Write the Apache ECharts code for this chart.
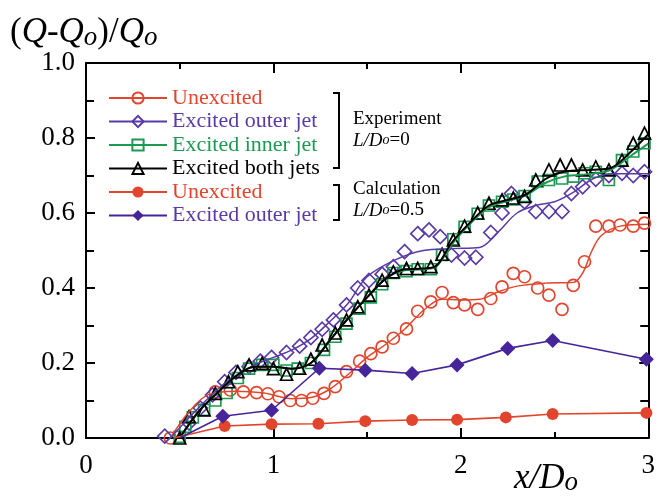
<!DOCTYPE html>
<html>
<head>
<meta charset="utf-8">
<title>Flow rate increase</title>
<script src="https://cdn.jsdelivr.net/npm/echarts@6/dist/echarts.min.js"></script>
<style>
body { margin: 0; background: #fff; }
#chart { width: 658px; height: 496px; }
</style>
</head>
<body>
<div id="chart"></div>
<script>
// values: x/Do and (Q-Qo)/Qo

// Experiment, L/Do = 0 (markers)
var expUnexX = [0.45, 0.69, 0.77, 0.84, 0.91, 0.97, 1.03, 1.09, 1.15, 1.21, 1.27, 1.33, 1.39, 1.46, 1.52, 1.58, 1.64, 1.71, 1.77, 1.84, 1.90, 1.96, 2.02, 2.09, 2.16, 2.22, 2.28, 2.34, 2.41, 2.47, 2.54, 2.60, 2.66, 2.72, 2.79, 2.85, 2.92, 2.98];
var expUnexY = [0.0, 0.123, 0.128, 0.123, 0.121, 0.118, 0.11, 0.10, 0.10, 0.106, 0.119, 0.137, 0.177, 0.205, 0.225, 0.243, 0.266, 0.291, 0.338, 0.363, 0.388, 0.361, 0.355, 0.343, 0.372, 0.403, 0.439, 0.43, 0.40, 0.381, 0.343, 0.407, 0.47, 0.565, 0.565, 0.568, 0.565, 0.573];

var expOuterX = [0.42, 0.55, 0.61, 0.675, 0.74, 0.80, 0.87, 0.93, 0.99, 1.07, 1.14, 1.20, 1.26, 1.32, 1.39, 1.45, 1.51, 1.58, 1.64, 1.70, 1.77, 1.83, 1.89, 1.95, 2.02, 2.08, 2.16, 2.22, 2.27, 2.34, 2.40, 2.47, 2.54, 2.59, 2.65, 2.72, 2.79, 2.86, 2.92, 2.98];
var expOuterY = [0.005, 0.04, 0.08, 0.115, 0.15, 0.175, 0.19, 0.205, 0.215, 0.228, 0.245, 0.268, 0.29, 0.315, 0.355, 0.40, 0.42, 0.437, 0.457, 0.497, 0.545, 0.555, 0.537, 0.488, 0.48, 0.482, 0.548, 0.60, 0.652, 0.63, 0.604, 0.604, 0.604, 0.652, 0.67, 0.69, 0.70, 0.706, 0.70, 0.71];

var expInnerX = [0.50, 0.53, 0.57, 0.63, 0.69, 0.75, 0.81, 0.87, 0.94, 1.00, 1.07, 1.13, 1.20, 1.27, 1.33, 1.39, 1.46, 1.52, 1.58, 1.64, 1.71, 1.77, 1.84, 1.90, 1.96, 2.02, 2.09, 2.15, 2.22, 2.28, 2.34, 2.41, 2.47, 2.54, 2.60, 2.66, 2.72, 2.79, 2.86, 2.92, 2.98];
var expInnerY = [0.003, 0.03, 0.055, 0.075, 0.10, 0.12, 0.16, 0.185, 0.195, 0.195, 0.18, 0.185, 0.20, 0.235, 0.27, 0.305, 0.345, 0.375, 0.41, 0.44, 0.445, 0.45, 0.45, 0.488, 0.53, 0.563, 0.598, 0.62, 0.63, 0.636, 0.645, 0.684, 0.688, 0.692, 0.697, 0.706, 0.71, 0.688, 0.741, 0.764, 0.786];

var expBothX = [0.50, 0.55, 0.63, 0.69, 0.76, 0.81, 0.87, 0.94, 1.00, 1.07, 1.14, 1.20, 1.26, 1.33, 1.39, 1.45, 1.51, 1.58, 1.64, 1.71, 1.77, 1.84, 1.90, 1.96, 2.02, 2.09, 2.15, 2.22, 2.28, 2.34, 2.40, 2.47, 2.53, 2.59, 2.65, 2.72, 2.79, 2.86, 2.92, 2.98];
var expBothY = [0.0, 0.057, 0.075, 0.119, 0.15, 0.177, 0.195, 0.199, 0.185, 0.17, 0.186, 0.21, 0.248, 0.28, 0.315, 0.35, 0.381, 0.421, 0.443, 0.452, 0.452, 0.457, 0.49, 0.528, 0.565, 0.60, 0.626, 0.635, 0.64, 0.644, 0.688, 0.715, 0.728, 0.728, 0.715, 0.723, 0.715, 0.741, 0.786, 0.813];

// Experiment, fitted curves
var fitUnexX = [0.45, 0.55, 0.65, 0.8, 0.95, 1.1, 1.2, 1.3, 1.4, 1.5, 1.6, 1.7, 1.8, 1.9, 2.0, 2.1, 2.2, 2.3, 2.45, 2.6, 2.65, 2.7, 2.75, 2.85, 3.0];
var fitUnexY = [0.0, 0.07, 0.115, 0.125, 0.12, 0.105, 0.108, 0.13, 0.17, 0.215, 0.25, 0.29, 0.34, 0.37, 0.368, 0.37, 0.39, 0.405, 0.413, 0.415, 0.44, 0.5, 0.54, 0.565, 0.57];

var fitOuterX = [0.45, 0.6, 0.75, 0.9, 1.0, 1.1, 1.2, 1.3, 1.4, 1.5, 1.65, 1.8, 1.95, 2.1, 2.2, 2.3, 2.4, 2.5, 2.6, 2.7, 2.8, 3.0];
var fitOuterY = [0.0, 0.08, 0.15, 0.195, 0.215, 0.235, 0.265, 0.31, 0.36, 0.43, 0.475, 0.5, 0.505, 0.508, 0.55, 0.6, 0.62, 0.63, 0.655, 0.69, 0.705, 0.705];

var fitInnerX = [0.5, 0.6, 0.7, 0.8, 0.9, 1.0, 1.1, 1.2, 1.3, 1.4, 1.5, 1.6, 1.7, 1.8, 1.87, 1.95, 2.05, 2.15, 2.25, 2.35, 2.45, 2.55, 2.7, 2.8, 2.9, 3.0];
var fitInnerY = [0.0, 0.07, 0.12, 0.165, 0.19, 0.19, 0.185, 0.2, 0.26, 0.32, 0.375, 0.425, 0.447, 0.45, 0.458, 0.515, 0.572, 0.615, 0.632, 0.648, 0.68, 0.697, 0.705, 0.715, 0.75, 0.785];

var fitBothX = [0.5, 0.6, 0.7, 0.8, 0.9, 1.0, 1.1, 1.2, 1.3, 1.4, 1.5, 1.6, 1.7, 1.8, 1.87, 1.95, 2.05, 2.15, 2.25, 2.35, 2.45, 2.55, 2.7, 2.8, 2.9, 3.0];
var fitBothY = [0.0, 0.07, 0.12, 0.165, 0.19, 0.19, 0.185, 0.2, 0.26, 0.32, 0.375, 0.425, 0.45, 0.452, 0.46, 0.52, 0.575, 0.62, 0.635, 0.65, 0.69, 0.71, 0.715, 0.72, 0.76, 0.81];

// Calculation, L/Do = 0.5
var calcUnexX = [0.47, 0.74, 0.99, 1.24, 1.49, 1.74, 1.98, 2.24, 2.49, 2.99];
var calcUnexY = [0.0, 0.032, 0.037, 0.038, 0.045, 0.048, 0.049, 0.055, 0.064, 0.067];
var calcOuterX = [0.5, 0.73, 0.99, 1.245, 1.49, 1.74, 1.98, 2.25, 2.49, 2.99];
var calcOuterY = [0.0, 0.058, 0.074, 0.186, 0.181, 0.172, 0.195, 0.239, 0.26, 0.21];

var yTicks = [0.0, 0.2, 0.4, 0.6, 0.8, 1.0];
var xTicks = [0, 1, 2, 3];

var RED = '#e2452d', PURPLE = '#5a3aa8', DPURPLE = '#46249a', GREEN = '#1d9a52', BLACK = '#000';
var SERIF = 'Liberation Serif';

function zip(xs, ys) {
    var out = [];
    for (var i = 0; i < xs.length; i++) out.push([xs[i], ys[i]]);
    return out;
}

var labels = {
    expUnex: 'Unexcited',
    expOuter: 'Excited outer jet',
    expInner: 'Excited inner jet',
    expBoth: 'Excited both jets',
    calcUnex: 'Unexcited',
    calcOuter: 'Excited outer jet'
};

function markers(name, xs, ys, symbol, size, color) {
    return {
        name: name, type: 'line', data: zip(xs, ys),
        symbol: symbol, symbolSize: size, showAllSymbol: true,
        itemStyle: { color: 'rgba(255,255,255,0)', borderColor: color, borderWidth: 1.7 },
        lineStyle: { color: color, width: 1.5, opacity: 0 },
        silent: true, z: 2
    };
}
function fit(xs, ys, color, width) {
    return {
        type: 'line', data: zip(xs, ys), smooth: 0.35, symbol: 'none',
        lineStyle: { color: color, width: width }, silent: true, z: 3
    };
}
function calc(name, xs, ys, symbol, size, color) {
    var pts = zip(xs, ys).map(function (p, i) {
        return i === 0 ? { value: p, symbol: 'none' } : p;
    });
    return {
        name: name, type: 'line', data: pts,
        symbol: symbol, symbolSize: size,
        itemStyle: { color: color, borderColor: color, borderWidth: 0 },
        lineStyle: { color: color, width: 1.6 },
        silent: true, z: 4
    };
}

function axisCommon(showLabel, len, minorLen) {
    return {
        axisLine: { onZero: false, lineStyle: { color: '#000', width: 2 } },
        axisTick: { inside: true, length: len, lineStyle: { color: '#000', width: 2 } },
        minorTick: { show: true, splitNumber: 2, length: minorLen, lineStyle: { color: '#000', width: 2 } },
        splitLine: { show: false },
        axisLabel: { show: showLabel }
    };
}

var chart = echarts.init(document.getElementById('chart'));
var xBottom = axisCommon(true, 10, 6);
xBottom.type = 'value'; xBottom.min = 0; xBottom.max = 3; xBottom.interval = 1; xBottom.position = 'bottom';
xBottom.axisLabel = { fontFamily: SERIF, fontSize: 27, color: '#000', margin: 14,
    formatter: function (v) { return xTicks.indexOf(v) >= 0 ? String(v) : ''; } };
var xTop = axisCommon(false, 10, 6);
xTop.type = 'value'; xTop.min = 0; xTop.max = 3; xTop.interval = 1; xTop.position = 'top';
var yLeft = axisCommon(true, 9, 8);
yLeft.type = 'value'; yLeft.min = 0; yLeft.max = 1; yLeft.interval = 0.2; yLeft.position = 'left';
yLeft.axisLabel = { fontFamily: SERIF, fontSize: 27, color: '#000', margin: 11,
    formatter: function (v) { return yTicks.indexOf(Math.round(v * 10) / 10) >= 0 ? v.toFixed(1) : ''; } };
var yRight = axisCommon(false, 9, 8);
yRight.type = 'value'; yRight.min = 0; yRight.max = 1; yRight.interval = 0.2; yRight.position = 'right';

var option = {
    animation: false,
    backgroundColor: '#fff',
    grid: { left: 86, right: 8, top: 63, bottom: 58 },
    xAxis: [xBottom, xTop],
    yAxis: [yLeft, yRight],
    legend: {
        orient: 'vertical', left: 108, top: 87, padding: 0,
        itemWidth: 58, itemHeight: 14, itemGap: 1.5, selectedMode: false,
        textStyle: { fontFamily: SERIF, fontSize: 22, lineHeight: 16 },
        formatter: function (n) { return labels[n]; },
        data: [
            { name: 'expUnex', textStyle: { color: RED }, lineStyle: { opacity: 1 } },
            { name: 'expOuter', textStyle: { color: PURPLE }, lineStyle: { opacity: 1 } },
            { name: 'expInner', textStyle: { color: GREEN }, lineStyle: { opacity: 1 } },
            { name: 'expBoth', textStyle: { color: BLACK }, lineStyle: { opacity: 1 } },
            { name: 'calcUnex', textStyle: { color: RED } },
            { name: 'calcOuter', textStyle: { color: PURPLE } }
        ]
    },
    series: [
        markers('expUnex', expUnexX, expUnexY, 'circle', 12, RED),
        markers('expOuter', expOuterX, expOuterY, 'diamond', 14, PURPLE),
        markers('expInner', expInnerX, expInnerY, 'rect', 11, GREEN),
        markers('expBoth', expBothX, expBothY, 'triangle', 12, BLACK),
        fit(fitUnexX, fitUnexY, RED, 1.5),
        fit(fitOuterX, fitOuterY, PURPLE, 1.5),
        fit(fitInnerX, fitInnerY, GREEN, 2),
        fit(fitBothX, fitBothY, BLACK, 2),
        calc('calcUnex', calcUnexX, calcUnexY, 'circle', 12, RED),
        calc('calcOuter', calcOuterX, calcOuterY, 'diamond', 15, DPURPLE)
    ],
    graphic: [
        {
            type: 'text', left: 10, top: 15,
            style: {
                text: '{p|(}{i|Q}{p|-}{i|Q}{s|o}{p|)/}{i|Q}{s|o}',
                rich: {
                    p: { fontFamily: SERIF, fontSize: 35, lineHeight: 38, fill: '#000' },
                    i: { fontFamily: SERIF, fontSize: 35, fontStyle: 'italic', lineHeight: 38, fill: '#000' },
                    s: { fontFamily: SERIF, fontSize: 27, fontStyle: 'italic', lineHeight: 24, verticalAlign: 'bottom', fill: '#000' }
                }
            }
        },
        {
            type: 'text', left: 514, top: 461,
            style: {
                text: '{i|x/D}{s|o}',
                rich: {
                    i: { fontFamily: SERIF, fontSize: 35, fontStyle: 'italic', lineHeight: 36, fill: '#000' },
                    s: { fontFamily: SERIF, fontSize: 27, fontStyle: 'italic', lineHeight: 24, verticalAlign: 'bottom', fill: '#000' }
                }
            }
        },
        { type: 'polyline', shape: { points: [[333, 93], [339, 93], [339, 168], [333, 168]] }, style: { stroke: '#000', lineWidth: 2, fill: null } },
        { type: 'polyline', shape: { points: [[333, 185], [339, 185], [339, 220], [333, 220]] }, style: { stroke: '#000', lineWidth: 2, fill: null } },
        { type: 'text', left: 353, top: 110, style: { text: 'Experiment', font: '19px "Liberation Serif"', fill: '#000' } },
        { type: 'text', left: 353, top: 131, style: {
            text: '{i|L/D}{s|o}{p|=0}',
            rich: { i: { fontFamily: SERIF, fontSize: 19, fontStyle: 'italic', fill: '#000' },
                    s: { fontFamily: SERIF, fontSize: 14, fontStyle: 'italic', fill: '#000' },
                    p: { fontFamily: SERIF, fontSize: 19, fill: '#000' } } } },
        { type: 'text', left: 353, top: 180, style: { text: 'Calculation', font: '19px "Liberation Serif"', fill: '#000' } },
        { type: 'text', left: 353, top: 201, style: {
            text: '{i|L/D}{s|o}{p|=0.5}',
            rich: { i: { fontFamily: SERIF, fontSize: 19, fontStyle: 'italic', fill: '#000' },
                    s: { fontFamily: SERIF, fontSize: 14, fontStyle: 'italic', fill: '#000' },
                    p: { fontFamily: SERIF, fontSize: 19, fill: '#000' } } } }
    ]
};
chart.setOption(option);
</script>
</body>
</html>
